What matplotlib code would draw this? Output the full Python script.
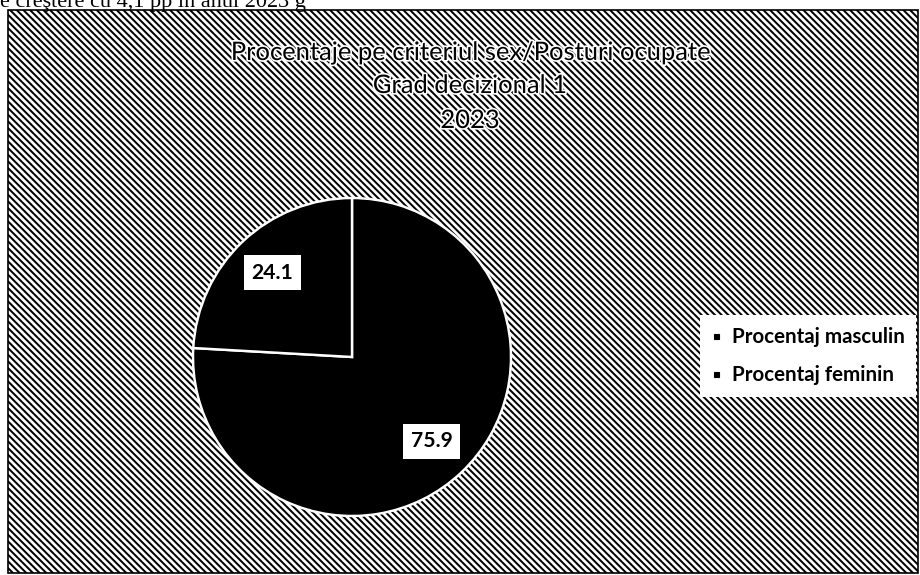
import numpy as np
import matplotlib
matplotlib.use("Agg")
import matplotlib.pyplot as plt
import matplotlib.patheffects as pe
from matplotlib.lines import Line2D
from matplotlib.patches import Rectangle

categories = ["Procentaj masculin", "Procentaj feminin"]
values = [75.9, 24.1]
title_lines = ["Procentaje pe criteriul sex/Posturi ocupate", "Grad decizional 1", "2023"]
page_text = "e creştere cu 4,1 pp în anul 2023 g"

W, H, DPI = 920, 575, 80
plt.rcParams["hatch.linewidth"] = 1.8
plt.rcParams["font.family"] = ["Lato", "DejaVu Sans"]

fig = plt.figure(figsize=(W / DPI, H / DPI), dpi=DPI)
fig.patch.set_facecolor("white")

# background layer in pixel coordinates (y grows downward)
bg = fig.add_axes([0, 0, 1, 1])
bg.set_xlim(0, W)
bg.set_ylim(H, 0)
bg.axis("off")
bg.add_patch(Rectangle((8, 10), 910, 563, facecolor="white", edgecolor="black",
                       hatch="\\\\\\\\", linewidth=1.5))
bg.text(0, 7, page_text, family="Liberation Serif", fontsize=20,
        ha="left", va="baseline", clip_on=False)

halo = [pe.withStroke(linewidth=3, foreground="white")]
for line, y in zip(title_lines, [60, 93, 128]):
    bg.text(470, y, line, fontsize=23, ha="center", va="baseline",
            color="black", path_effects=halo)

# pie
cx, cy, r = 352, 357, 159
k = 1.06
ax = fig.add_axes([(cx - k * r) / W, (H - cy - k * r) / H, 2 * k * r / W, 2 * k * r / H])
wedges, _ = ax.pie(values, startangle=90, counterclock=False,
                   colors=["black", "black"],
                   wedgeprops=dict(edgecolor="white", linewidth=2.2))
ax.set_xlim(-k, k)
ax.set_ylim(-k, k)

for w, v in zip(wedges, values):
    ang = np.deg2rad((w.theta1 + w.theta2) / 2)
    ax.text(0.73 * np.cos(ang), 0.73 * np.sin(ang), f"{v:.1f}",
            ha="center", va="center", fontsize=19, fontweight="bold",
            bbox=dict(boxstyle="square,pad=0.35", facecolor="white", edgecolor="none"))

handles = [Line2D([], [], linestyle="none", marker="s", markersize=4.5, color="black")
           for _ in categories]
fig.legend(handles, categories, loc="center left",
           bbox_to_anchor=(700 / W, 1 - 356 / H), borderaxespad=0,
           frameon=True, fancybox=False, edgecolor="none", facecolor="white",
           framealpha=1, prop=dict(weight="bold", size=18.5),
           handlelength=0.5, handletextpad=0.5, labelspacing=0.9, borderpad=0.55)

fig.savefig("out.png", dpi=DPI)
